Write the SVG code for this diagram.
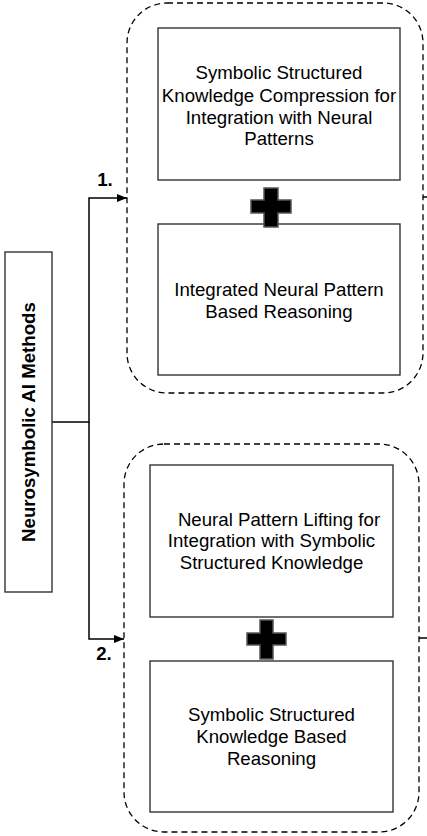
<svg xmlns="http://www.w3.org/2000/svg" width="427" height="836" viewBox="0 0 427 836">
<defs>
<marker id="arr" markerWidth="10" markerHeight="8" refX="10" refY="4" orient="auto" markerUnits="userSpaceOnUse">
<path d="M0,0 L10,4 L0,8 Z" fill="#000"/>
</marker>
<style>
.box{fill:#fff;stroke:#333;stroke-width:1.4}
.grp{fill:none;stroke:#000;stroke-width:1.3;stroke-dasharray:6 4}
.plus{fill:#000;stroke:#555;stroke-width:1.5}
.t{font-family:"Liberation Sans",Arial,sans-serif;font-size:18.67px;fill:#000;text-anchor:middle}
.b{font-weight:bold}
.ln{fill:none;stroke:#000;stroke-width:1.5}
</style>
</defs>
<rect width="427" height="836" fill="#fff"/>
<g id="group1">
<rect class="grp" x="127" y="3" width="296" height="390" rx="40" ry="40"/>
</g>
<g id="group2">
<rect class="grp" x="124" y="444" width="295" height="388" rx="40" ry="40"/>
</g>
<g id="connectors">
<path class="ln" d="M52,422 H89 V198 H127" marker-end="url(#arr)"/>
<path class="ln" d="M89,422 V639 H124" marker-end="url(#arr)"/>
<path class="ln" d="M423,197 H427"/>
<path class="ln" d="M419,638 H427"/>
<text class="t b" x="105" y="186">1.</text>
<text class="t b" x="104" y="660">2.</text>
</g>
<g id="main">
<rect class="box" x="5" y="252" width="47" height="340"/>
<text class="t b" transform="translate(35,422) rotate(-90)">Neurosymbolic AI Methods</text>
</g>
<g id="box1">
<rect class="box" x="158" y="28" width="242" height="152"/>
<text class="t" x="279" y="79">Symbolic Structured</text>
<text class="t" x="279" y="102">Knowledge Compression for</text>
<text class="t" x="279" y="124">Integration with Neural</text>
<text class="t" x="279" y="145">Patterns</text>
</g>
<g id="box2">
<rect class="box" x="158" y="224" width="242" height="151"/>
<text class="t" x="279" y="296">Integrated Neural Pattern</text>
<text class="t" x="279" y="318">Based Reasoning</text>
</g>
<g id="plus1">
<path class="plus" d="M264,188 H278 V200 H291 V213 H278 V227 H264 V213 H251 V200 H264 Z"/>
</g>
<g id="box3">
<rect class="box" x="150" y="465" width="243" height="152"/>
<text class="t" x="279" y="526">Neural Pattern Lifting for</text>
<text class="t" x="271.5" y="547">Integration with Symbolic</text>
<text class="t" x="271.5" y="569">Structured Knowledge</text>
</g>
<g id="box4">
<rect class="box" x="150" y="661" width="243" height="151"/>
<text class="t" x="271.5" y="721">Symbolic Structured</text>
<text class="t" x="271.5" y="743">Knowledge Based</text>
<text class="t" x="271.5" y="765">Reasoning</text>
</g>
<g id="plus2">
<path class="plus" d="M260,620 H273 V633 H286 V645 H273 V659 H260 V645 H247 V633 H260 Z"/>
</g>
</svg>
